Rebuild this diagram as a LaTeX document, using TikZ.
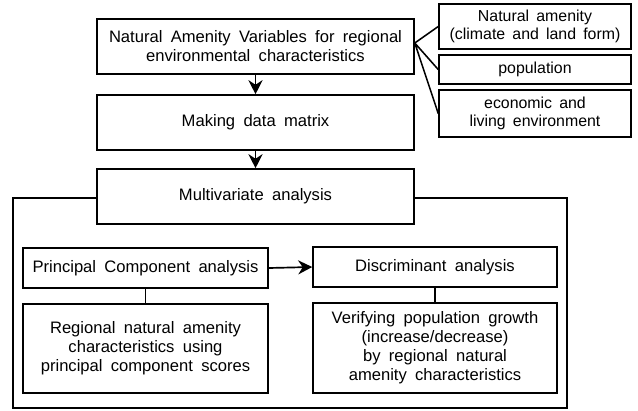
\documentclass[tikz,border=0pt]{standalone}
\usepackage{fontspec}
\setmainfont{Liberation Sans}
\usetikzlibrary{arrows.meta}

\protected\def\boxfont{\fontsize{11.8}{13.5}\selectfont\spaceskip=0.5em\relax}
\protected\def\sidefont{\fontsize{11.3}{13}\selectfont\spaceskip=0.45em\relax}

\tikzset{
  stepbox/.style={draw,fill=white,line width=1.1pt,align=center,inner sep=2pt,
                  font=\boxfont},
  sidebox/.style={stepbox,font=\sidefont},
  size/.style 2 args={minimum width=#1*0.025cm,minimum height=#2*0.025cm},
  link/.style={line width=1.1pt},
  flow/.style={line width=1.2pt,-{Stealth[length=10pt,width=10pt]}}
}

\begin{document}
\begin{tikzpicture}[x=0.025cm,y=-0.025cm]
\useasboundingbox (0,0) rectangle (638,410);
\draw[link] (13,198) rectangle (567,408);
\path
    (255.5, 46.5) node [stepbox,size={317}{55}] (nav)
        {Natural Amenity Variables for regional\\environmental characteristics}
    (255.5,122.5) node [stepbox,size={317}{55}] (data)
        {Making data matrix}
    (255.5,196.5) node [stepbox,size={317}{55}] (multi)
        {Multivariate analysis}
    (145.5,268  ) node [stepbox,size={245}{40}] (pca)
        {Principal Component analysis}
    (435  ,267  ) node [stepbox,size={244}{40}] (disc)
        {Discriminant analysis}
    (145.5,348.5) node [stepbox,size={245}{89}] (reg)
        {Regional natural amenity\\characteristics using\\principal component scores}
    (435  ,348  ) node [stepbox,size={244}{90}] (ver)
        {Verifying population growth\\(increase/decrease)\\by regional natural\\amenity characteristics}
    (535  , 26.5) node [sidebox,size={192}{45}] (amen)
        {Natural amenity\\(climate and land form)}
    (535  , 69.5) node [sidebox,size={192}{29}] (popu)
        {population}
    (535  ,113.5) node [sidebox,size={192}{47}] (econ)
        {economic and\\living environment};
\coordinate (fan) at (nav.east |- 0,43);
\draw[flow] (nav.south)  -- (data.north);
\draw[flow] (data.south) -- (multi.north);
\draw[flow] (pca.east)   -- (disc.west);
\draw[link] (pca.south)  -- (reg.north);
\draw[link] (disc.south) -- (ver.north);
\draw[link] (amen.west) -- (fan) -- (popu.west)
            (fan) -- (econ.west);
\end{tikzpicture}
\end{document}
